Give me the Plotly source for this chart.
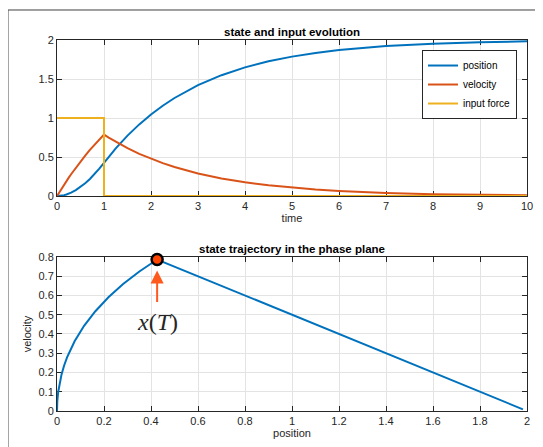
import plotly.graph_objects as go

# ---- data ----
time = [0, 0.02, 0.05, 0.1, 0.15, 0.2, 0.25, 0.3, 0.4, 0.5,
        0.6, 0.7, 0.8, 0.9, 1.0, 1.1, 1.25, 1.5, 1.75, 2.0,
        2.25, 2.5, 2.75, 3.0, 3.5, 4.0, 4.5, 5.0, 5.5, 6.0,
        7.0, 8.0, 9.0, 10.0]
position = [0, 0.0002, 0.0012, 0.0049, 0.0110, 0.0193, 0.0300, 0.0428, 0.0749, 0.1152,
            0.1633, 0.2188, 0.2813, 0.3505, 0.4261, 0.5030, 0.6110, 0.7744, 0.9184, 1.0454,
            1.1576, 1.2566, 1.3440, 1.4210, 1.5490, 1.6488, 1.7266, 1.7870, 1.8342, 1.8708,
            1.9216, 1.9524, 1.9712, 1.9826]
velocity = [0, 0.0199, 0.0494, 0.0975, 0.1445, 0.1903, 0.2350, 0.2786, 0.3625, 0.4424,
            0.5184, 0.5906, 0.6594, 0.7247, 0.7869, 0.7485, 0.6945, 0.6128, 0.5408, 0.4773,
            0.4212, 0.3717, 0.3280, 0.2895, 0.2255, 0.1756, 0.1367, 0.1065, 0.0829, 0.0646,
            0.0392, 0.0238, 0.0144, 0.0087]
force_time = [0, 1, 1, 10]
force = [1, 1, 0, 0]
switch_time = 1.0
k_T = time.index(switch_time)
xT_pos = position[k_T]
xT_vel = velocity[k_T]

C_POS = "#0072BD"
C_VEL = "#D95319"
C_FRC = "#EDB120"
AX = "#262626"
GRID = "#e3e3e3"
FONT = "Liberation Sans, Arial, Helvetica, sans-serif"

fig = go.Figure()
fig.add_trace(go.Scatter(x=time, y=position, mode="lines", name="position",
                         line=dict(color=C_POS, width=2), xaxis="x", yaxis="y"))
fig.add_trace(go.Scatter(x=time, y=velocity, mode="lines", name="velocity",
                         line=dict(color=C_VEL, width=2), xaxis="x", yaxis="y"))
fig.add_trace(go.Scatter(x=force_time, y=force, mode="lines", name="input force",
                         line=dict(color=C_FRC, width=2), xaxis="x", yaxis="y"))
fig.add_trace(go.Scatter(x=position, y=velocity, mode="lines", showlegend=False,
                         line=dict(color=C_POS, width=2), xaxis="x2", yaxis="y2"))
fig.add_trace(go.Scatter(x=[xT_pos], y=[xT_vel], mode="markers", showlegend=False,
                         marker=dict(size=11, color="#FF4500",
                                     line=dict(color="black", width=2.5)),
                         xaxis="x2", yaxis="y2", cliponaxis=False))

axis_common = dict(showline=True, linecolor=AX, linewidth=1, mirror="ticks",
                   ticks="inside", ticklen=5, tickcolor=AX, tickwidth=1,
                   showgrid=True, gridcolor=GRID, gridwidth=1, zeroline=False,
                   automargin=False, layer="below traces",
                   tickfont=dict(family=FONT, size=11, color=AX))

top_dom = [0.5795, 1.0]
bot_dom = [0.0, 0.4151]

# the page body adds an 8 px offset, so the figure is 8 px smaller on each axis
fig.update_layout(
    width=535, height=439,
    margin=dict(l=49, r=16, t=32, b=36),
    paper_bgcolor="white", plot_bgcolor="white",
    font=dict(family=FONT, size=11, color=AX),
    xaxis=dict(axis_common, domain=[0, 1], range=[0, 10], dtick=1, anchor="y",
               title=dict(text="time", font=dict(size=11, color=AX), standoff=2)),
    yaxis=dict(axis_common, domain=top_dom, range=[0, 2], dtick=0.5, anchor="x"),
    xaxis2=dict(axis_common, domain=[0, 1], range=[0, 2], dtick=0.2, anchor="y2",
                title=dict(text="position", font=dict(size=11, color=AX), standoff=2)),
    yaxis2=dict(axis_common, domain=bot_dom, range=[0, 0.8], dtick=0.1, anchor="x2",
                title=dict(text="velocity", font=dict(size=11, color=AX), standoff=4)),
    legend=dict(x=0.9787, y=0.973, xanchor="right", yanchor="top",
                bgcolor="white", bordercolor=AX, borderwidth=1,
                font=dict(family=FONT, size=10, color="black"),
                itemwidth=30, tracegroupgap=0),
    showlegend=True,
)

# subplot titles
fig.add_annotation(text="<b>state and input evolution</b>", xref="paper", yref="paper",
                   x=0.5, y=1.0, yshift=0, xanchor="center", yanchor="bottom",
                   showarrow=False, font=dict(family=FONT, size=11.5, color="black"))
fig.add_annotation(text="<b>state trajectory in the phase plane</b>", xref="paper", yref="paper",
                   x=0.5, y=bot_dom[1], yshift=0, xanchor="center", yanchor="bottom",
                   showarrow=False, font=dict(family=FONT, size=11.5, color="black"))

# arrow pointing to x(T)
fig.add_annotation(x=xT_pos, y=xT_vel, xref="x2", yref="y2", text="",
                   showarrow=True, ax=0, ay=44, axref="pixel", ayref="pixel",
                   standoff=11, arrowhead=2, arrowsize=1.3, arrowwidth=2,
                   arrowcolor="#FF5A1E")
fig.add_annotation(x=xT_pos, y=xT_vel, xref="x2", yref="y2",
                   text="<i>x</i>(<i>T</i>)", showarrow=False, yshift=-62,
                   xanchor="center", yanchor="middle",
                   font=dict(family="Liberation Serif, Times New Roman, serif", size=24, color=AX))

# figure frame (left and top edges visible)
fig.add_shape(type="line", xref="paper", yref="paper",
              x0=-0.1043, x1=-0.1043, y0=1.0809, y1=-0.12,
              line=dict(color="#404040", width=1))
fig.add_shape(type="line", xref="paper", yref="paper",
              x0=-0.1043, x1=1.05, y0=1.0809, y1=1.0809,
              line=dict(color="#404040", width=1))

fig.write_html("out.html")
